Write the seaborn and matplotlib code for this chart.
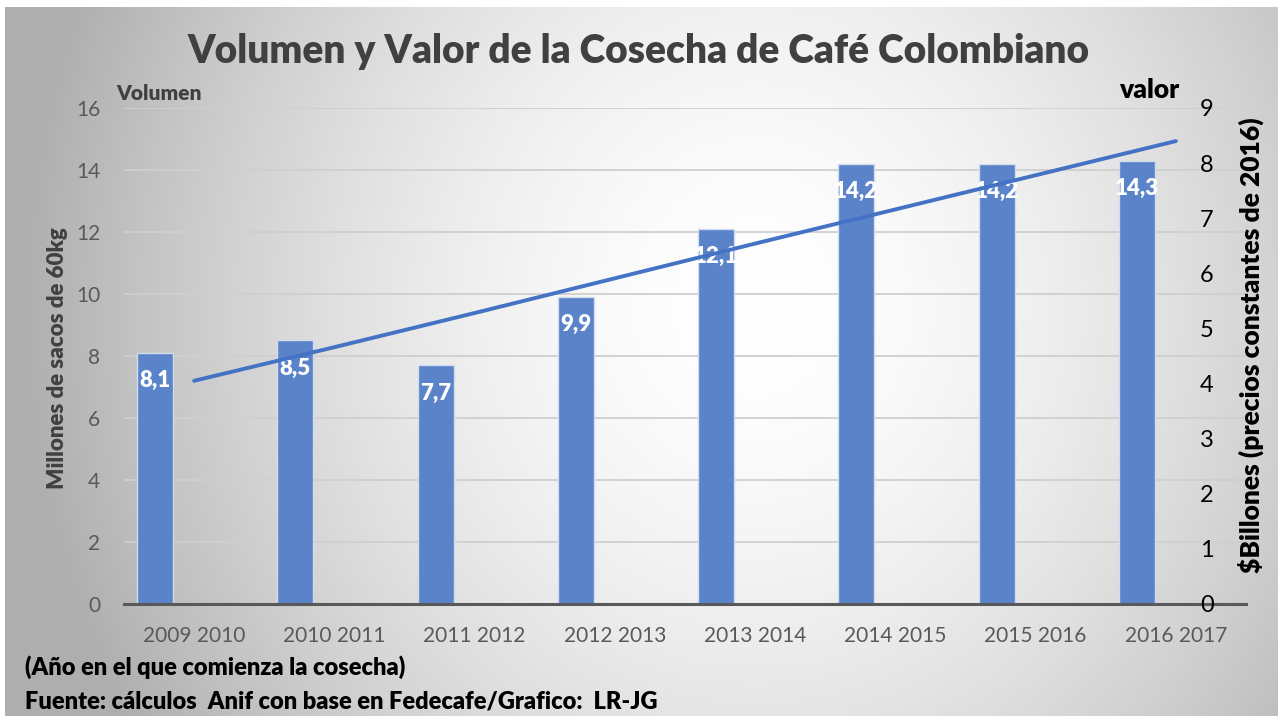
import numpy as np
import pandas as pd
import matplotlib
matplotlib.use('Agg')
import matplotlib.pyplot as plt
import seaborn as sns

# Datos
cosechas = ['2009 2010', '2010 2011', '2011 2012', '2012 2013',
            '2013 2014', '2014 2015', '2015 2016', '2016 2017']
volumen = [8.1, 8.5, 7.7, 9.9, 12.1, 14.2, 14.2, 14.3]      # millones de sacos de 60kg
valor = [4.05, 4.66, 5.28, 5.91, 6.54, 7.16, 7.78, 8.40]    # $ billones (precios 2016)
volumen_ticks = list(range(0, 17, 2))
valor_ticks = list(range(0, 10))

colors = {
    'bar': '#5B83CA',
    'bar_edge': '#D0DCF0',
    'line': '#4472C4',
    'title': '#404040',
    'tick': '#595959',
    'grid': '#CFCFCF',
}

sns.set_style('white')
plt.rcParams['font.family'] = ['Lato', 'DejaVu Sans']

fig = plt.figure(figsize=(12.78, 7.16), dpi=100, facecolor='white')

# fondo con degradado radial (blanco al centro, gris en los bordes)
bg = fig.add_axes([5 / 1278, 0, 1 - 5 / 1278, 1 - 7 / 716], zorder=-10)
yy, xx = np.mgrid[0:710, 0:1273]
r = np.sqrt(((xx - 750) / 640.0) ** 2 + ((yy - 300) / 700.0) ** 2)
shade = 1.0 - 0.25 * np.clip(r, 0, 1.15) ** 1.7
bg.imshow(np.dstack([shade] * 3), aspect='auto', extent=[0, 1, 0, 1])
bg.set_axis_off()

ax = fig.add_axes([124 / 1278, 1 - 604 / 716, (1246 - 124) / 1278, (604 - 108) / 716])
ax.set_facecolor('none')

df = pd.DataFrame({'cosecha': cosechas, 'volumen': volumen, 'valor': valor})

sns.barplot(data=df, x='cosecha', y='volumen', ax=ax, width=0.257,
            color=colors['bar'], edgecolor=colors['bar_edge'], linewidth=1,
            saturation=1, zorder=3)
# barras corridas a la izquierda como en la grafica agrupada de Excel
for p in ax.patches:
    p.set_x(p.get_x() - 0.278)

for p, v in zip(ax.patches, volumen):
    ax.annotate(f'{v:.1f}'.replace('.', ','),
                (p.get_x() + p.get_width() / 2, p.get_height()),
                xytext=(0, -20), textcoords='offset points',
                ha='center', va='center', color='white',
                fontsize=16, fontweight='heavy', zorder=5)

ax.set_xlim(-0.5, len(cosechas) - 0.5)
ax.set_ylim(0, 16)
ax.set_yticks(volumen_ticks)
ax.yaxis.grid(True, color=colors['grid'], linewidth=1.3, zorder=0)
ax.set_axisbelow(True)
ax.tick_params(axis='y', length=0, pad=17, labelsize=15, colors=colors['tick'])

ax.set_xticks(np.arange(-0.5, len(cosechas)), labels=[''] * (len(cosechas) + 1))
ax.set_xticks(np.arange(len(cosechas)), labels=cosechas, minor=True)
ax.tick_params(axis='x', which='major', length=7, width=2, color=colors['tick'], direction='out')
ax.tick_params(axis='x', which='minor', length=0, pad=16, labelsize=15, labelcolor=colors['tick'])
ax.set_xlabel('')
ax.set_ylabel('')
for s in ['left', 'top', 'right']:
    ax.spines[s].set_visible(False)
ax.spines['bottom'].set_color(colors['tick'])
ax.spines['bottom'].set_linewidth(2.2)
ax.spines['bottom'].set_zorder(6)

# eje secundario: valor
ax2 = ax.twinx()
sns.lineplot(x=np.arange(len(cosechas)), y=valor, ax=ax2, color=colors['line'],
             linewidth=2.8, solid_capstyle='round', zorder=4)
ax2.set_xlim(-0.5, len(cosechas) - 0.5)
ax2.set_ylim(0, 9)
ax2.set_yticks(valor_ticks)
ax2.tick_params(axis='y', length=0, pad=-33, labelsize=17, colors='black')
for s in ax2.spines.values():
    s.set_visible(False)

# textos
fig.text(0.5, 1 - 52 / 716, 'Volumen y Valor de la Cosecha de Café Colombiano',
         ha='center', va='center', fontsize=28, fontweight='heavy', color=colors['title'])
fig.text(116 / 1278, 1 - 93 / 716, 'Volumen', ha='left', va='center',
         fontsize=15, fontweight='heavy', color=colors['title'])
fig.text(1179 / 1278, 1 - 90 / 716, 'valor', ha='right', va='center',
         fontsize=19, fontweight='heavy', color='black')
fig.text(57 / 1278, 1 - 358 / 716, 'Millones de sacos de 60kg', rotation=90,
         ha='center', va='center', fontsize=16, fontweight='heavy', color=colors['title'])
fig.text(1251 / 1278, 1 - 345 / 716, '$Billones (precios constantes de 2016)', rotation=90,
         ha='center', va='center', fontsize=19, fontweight='heavy', color='black')
fig.text(25 / 1278, 1 - 667 / 716, '(Año en el que comienza la cosecha)',
         ha='left', va='center', fontsize=17, fontweight='heavy', color='black')
fig.text(25 / 1278, 1 - 701 / 716, 'Fuente: cálculos  Anif con base en Fedecafe/Grafico:  LR-JG',
         ha='left', va='center', fontsize=17, fontweight='heavy', color='black')

fig.savefig('out.png', dpi=100, facecolor=fig.get_facecolor())
